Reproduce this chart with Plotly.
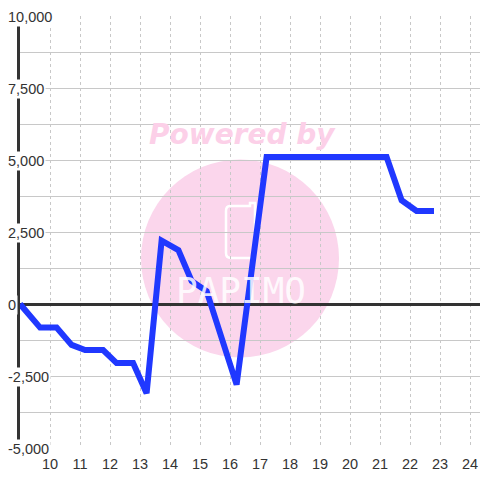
import plotly.graph_objects as go

# Data
x_vals = [9.0, 9.67, 10.22, 10.72, 11.17, 11.77, 12.22, 12.77, 13.22, 13.72,
          14.28, 14.72, 15.22, 16.22, 17.22, 21.22, 21.72, 22.22, 22.8]
y_vals = [0, -820, -820, -1420, -1600, -1600, -2050, -2050, -3100, 2200,
          1870, 800, 450, -2800, 5100, 5100, 3600, 3230, 3230]
x_ticks = list(range(10, 25))
y_label_vals = [10000, 7500, 5000, 2500, 0, -2500, -5000]
y_label_text = ["10,000", "7,500", "5,000", "2,500", "0", "-2,500", "-5,000"]

# body margin is removed by the post script, so figure = page
W, H = 480, 480
L, R, T, B = 20, 0, 16, 32
PW, PH = W - L - R, H - T - B
X0 = L
Y1 = T + PH

FONT = "Liberation Sans, Arial, sans-serif"
FS = 14.5


def px(xp):
    return (xp - X0) / PW


def py(yp):
    return (Y1 - yp) / PH


fig = go.Figure()
fig.add_trace(go.Scatter(
    x=x_vals, y=y_vals, mode="lines",
    line=dict(color="rgb(32,56,255)", width=6),
    hoverinfo="skip", showlegend=False,
))

pink = "rgb(251,214,236)"
shapes = [
    dict(type="circle", xref="paper", yref="paper", layer="below",
         x0=px(141), x1=px(339), y0=py(357.5), y1=py(159.5),
         fillcolor=pink, line=dict(width=0)),
    dict(type="path", xref="paper", yref="paper", layer="below",
         path=(f"M {px(230)},{py(206)} L {px(250)},{py(206)} L {px(250)},{py(203)} "
               f"L {px(255)},{py(203)} L {px(255)},{py(253)} Q {px(255)},{py(258)} {px(250)},{py(258)} "
               f"L {px(231)},{py(258)} Q {px(226)},{py(258)} {px(226)},{py(253)} L {px(226)},{py(211)} "
               f"Q {px(226)},{py(206)} {px(230)},{py(206)} Z"),
         line=dict(color="white", width=2.5)),
]

annotations = [
    dict(text="<b><i>Powered by</i></b>", xref="paper", yref="paper",
         x=px(242), y=py(135), xanchor="center", yanchor="middle", showarrow=False,
         font=dict(family="DejaVu Sans", size=28, color="rgb(252,208,232)")),
    dict(text="PAPIMO", xref="paper", yref="paper",
         x=px(241), y=py(290), xanchor="center", yanchor="middle", showarrow=False,
         font=dict(family="DejaVu Sans Mono", size=36, color="rgba(255,255,255,0.85)")),
]
for v, t in zip(y_label_vals, y_label_text):
    annotations.append(dict(
        text=t, xref="paper", yref="y", x=px(6), y=v, xanchor="left", yanchor="middle",
        yshift=-1, showarrow=False, bgcolor="white", borderpad=1,
        font=dict(family=FONT, size=FS, color="#333"),
    ))

fig.update_layout(
    width=W, height=H, margin=dict(l=L, r=R, t=T, b=B, pad=0),
    paper_bgcolor="white", plot_bgcolor="white",
    shapes=shapes, annotations=annotations,
    font=dict(family=FONT, size=FS, color="#333"),
)
fig.update_xaxes(
    range=[9, 9 + PW / 30], tickvals=x_ticks, ticktext=[str(v) for v in x_ticks],
    showgrid=True, gridcolor="#c8c8c8", griddash="dot", gridwidth=1,
    zeroline=False, showline=False,
    ticks="outside", ticklen=3, tickcolor="rgba(0,0,0,0)",
    ticklabeloverflow="allow",
    fixedrange=True, automargin=False,
)
fig.update_yaxes(
    range=[-5000, 10000], dtick=1250, tick0=0, showticklabels=False,
    showgrid=True, gridcolor="#c8c8c8", gridwidth=1,
    zeroline=True, zerolinecolor="#333", zerolinewidth=3,
    showline=True, linecolor="#333", linewidth=3, ticks="", fixedrange=True,
    automargin=False,
)

fig.write_html(
    "out.html",
    config={"displayModeBar": False},
    post_script=("document.body.style.margin='0';"
                 "document.documentElement.style.overflow='hidden';"
                 "document.body.style.overflow='hidden';"),
)
